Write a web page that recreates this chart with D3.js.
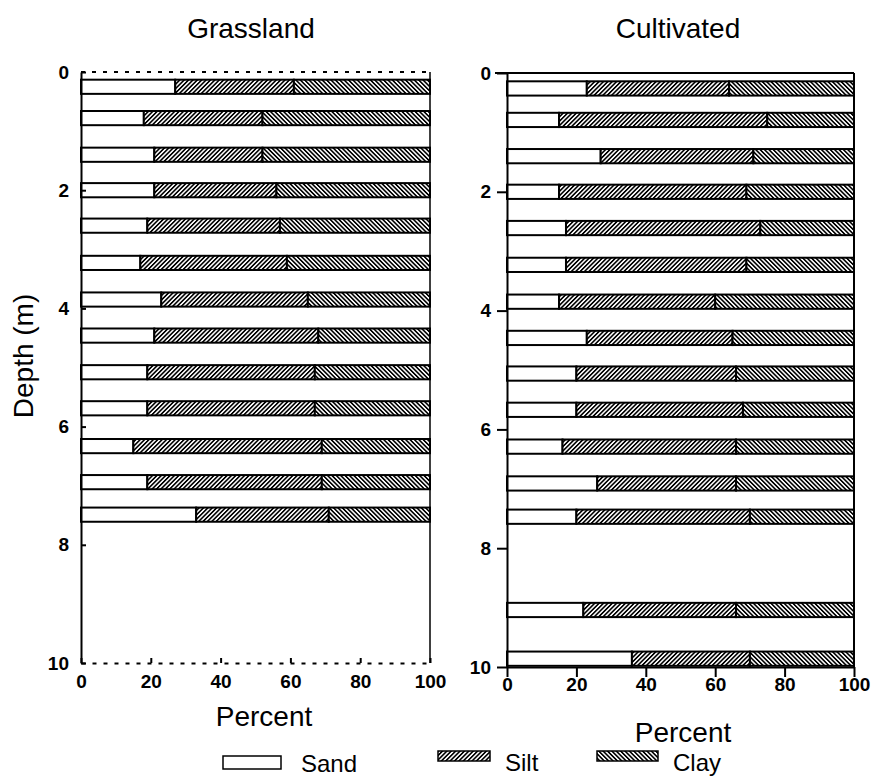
<!DOCTYPE html>
<head>
  <script src="https://d3js.org/d3.v7.min.js" charset="utf-8"></script>
  <style>
  body { margin: 0; background: #fff; }
  svg text { font-family: "Liberation Sans", Arial, sans-serif; fill: #000; }
  .tick text { font-weight: bold; font-size: 19px; }
  .domain, .tick line { stroke: #000; stroke-width: 2px; }
  .faint { stroke-dasharray: 4,7; }
  .title, .axis-label { font-size: 28px; text-anchor: middle; }
  .legend text { font-size: 24px; }
  </style>
</head>
<body>
<svg id="chart" width="875" height="776"></svg>
<script>
// soil texture components, in stacking order
const components = ['Sand', 'Silt', 'Clay'];
const panelNames = ['Grassland', 'Cultivated'];
const depthTicks = [0, 2, 4, 6, 8, 10];
const percentTicks = [0, 20, 40, 60, 80, 100];

// Grassland profile (depth in m, fractions in %)
const grassDepth = [0.25, 0.78, 1.40, 2.00, 2.60, 3.23, 3.85, 4.46, 5.08, 5.69, 6.33, 6.94, 7.49];
const grassSand  = [27, 18, 21, 21, 19, 17, 23, 21, 19, 19, 15, 19, 33];
const grassSilt  = [34, 34, 31, 35, 38, 42, 42, 47, 48, 48, 54, 50, 38];
const grassClay  = [39, 48, 48, 44, 43, 41, 35, 32, 33, 33, 31, 31, 29];

// Cultivated profile
const cultDepth = [0.26, 0.79, 1.40, 2.00, 2.61, 3.23, 3.85, 4.46, 5.06, 5.67, 6.29, 6.91, 7.47, 9.04, 9.86];
const cultSand  = [23, 15, 27, 15, 17, 17, 15, 23, 20, 20, 16, 26, 20, 22, 36];
const cultSilt  = [41, 60, 44, 54, 56, 52, 45, 42, 46, 48, 50, 40, 50, 44, 34];
const cultClay  = [36, 25, 29, 31, 27, 31, 40, 35, 34, 32, 34, 34, 30, 34, 30];

const barThick = 0.24; // m

let svg = d3.select('#chart');
let defs = svg.append('defs');

function hatch(id, angle) {
  let p = defs.append('pattern')
    .attr('id', id)
    .attr('patternUnits', 'userSpaceOnUse')
    .attr('width', 3.1).attr('height', 3.1)
    .attr('patternTransform', `rotate(${angle})`);
  p.append('rect').attr('width', 3.1).attr('height', 3.1).attr('fill', '#fff');
  p.append('rect').attr('width', 1.6).attr('height', 3.1).attr('fill', '#000');
}
hatch('silt-hatch', 45);
hatch('clay-hatch', -45);

const fills = { Sand: '#fff', Silt: 'url(#silt-hatch)', Clay: 'url(#clay-hatch)' };

function drawPanel(opts) {
  let g = svg.append('g');
  let x = d3.scaleLinear().domain([0, 100]).range([opts.x0, opts.x1]),
      y = d3.scaleLinear().domain([0, 10]).range([opts.y0, opts.y1]);

  let rows = opts.depth.map((d, i) => ({
    depth: d, Sand: opts.sand[i], Silt: opts.silt[i], Clay: opts.clay[i]
  }));
  let stacked = d3.stack().keys(components)(rows);

  // frame lines (top + right)
  g.append('line')
    .attr('class', opts.faint ? 'faint' : null)
    .attr('x1', opts.faint ? x(0) : x(0) - 12).attr('x2', x(100))
    .attr('y1', y(0)).attr('y2', y(0))
    .attr('stroke', '#000').attr('stroke-width', 2);
  g.append('line')
    .attr('x1', x(100)).attr('x2', x(100))
    .attr('y1', y(0)).attr('y2', y(10))
    .attr('stroke', '#000').attr('stroke-width', opts.faint ? 1.5 : 2);

  stacked.forEach((layer) => {
    g.selectAll(null)
      .data(layer)
      .enter().append('rect')
      .attr('x', (d) => x(d[0]))
      .attr('width', (d) => x(d[1]) - x(d[0]))
      .attr('y', (d) => y(d.data.depth - barThick / 2))
      .attr('height', (d) => y(d.data.depth + barThick / 2) - y(d.data.depth - barThick / 2))
      .attr('fill', fills[layer.key])
      .attr('stroke', '#000')
      .attr('stroke-width', 2);
  });

  let xAxis = d3.axisBottom(x).tickValues(percentTicks).tickSizeOuter(0),
      yAxis = d3.axisLeft(y).tickValues(depthTicks).tickSizeOuter(0);

  if (opts.faint) {
    xAxis.tickSizeInner(-5).tickPadding(12);
    yAxis.tickSizeInner(-5).tickPadding(12);
  } else {
    xAxis.tickSizeInner(10).tickPadding(1);
    yAxis.tickSizeInner(10).tickPadding(6);
  }

  let xg = g.append('g')
    .attr('transform', `translate(0, ${y(10)})`)
    .call(xAxis);
  if (opts.faint) xg.select('.domain').classed('faint', true);

  g.append('g')
    .attr('transform', `translate(${x(0)}, 0)`)
    .call(yAxis);

  g.selectAll('.tick text').attr('font-family', null).attr('font-size', null);

  svg.append('text')
    .attr('class', 'title')
    .attr('x', opts.titleX).attr('y', 38)
    .text(opts.title);

  svg.append('text')
    .attr('class', 'axis-label')
    .attr('x', opts.labelX).attr('y', opts.labelY)
    .text('Percent');
}

drawPanel({
  title: panelNames[0], titleX: 251,
  x0: 81, x1: 430, y0: 72, y1: 663,
  depth: grassDepth, sand: grassSand, silt: grassSilt, clay: grassClay,
  faint: true, labelX: 264, labelY: 726
});

drawPanel({
  title: panelNames[1], titleX: 678,
  x0: 507, x1: 854, y0: 73, y1: 667,
  depth: cultDepth, sand: cultSand, silt: cultSilt, clay: cultClay,
  faint: false, labelX: 683, labelY: 742
});

svg.append('text')
  .attr('class', 'axis-label')
  .attr('transform', 'translate(33, 356) rotate(-90)')
  .text('Depth (m)');

// legend
let legendItems = [
  { x: 223, y: 756, w: 58, h: 13, tx: 301, ty: 772 },
  { x: 438, y: 751, w: 52, h: 10, tx: 505, ty: 771 },
  { x: 597, y: 751, w: 61, h: 10, tx: 673, ty: 771 }
];
let legend = svg.append('g').attr('class', 'legend');
components.forEach((c, i) => {
  let it = legendItems[i];
  legend.append('rect')
    .attr('x', it.x).attr('y', it.y).attr('width', it.w).attr('height', it.h)
    .attr('fill', fills[c]).attr('stroke', '#000').attr('stroke-width', 1.5);
  legend.append('text').attr('x', it.tx).attr('y', it.ty).text(c);
});
</script>
</body>
